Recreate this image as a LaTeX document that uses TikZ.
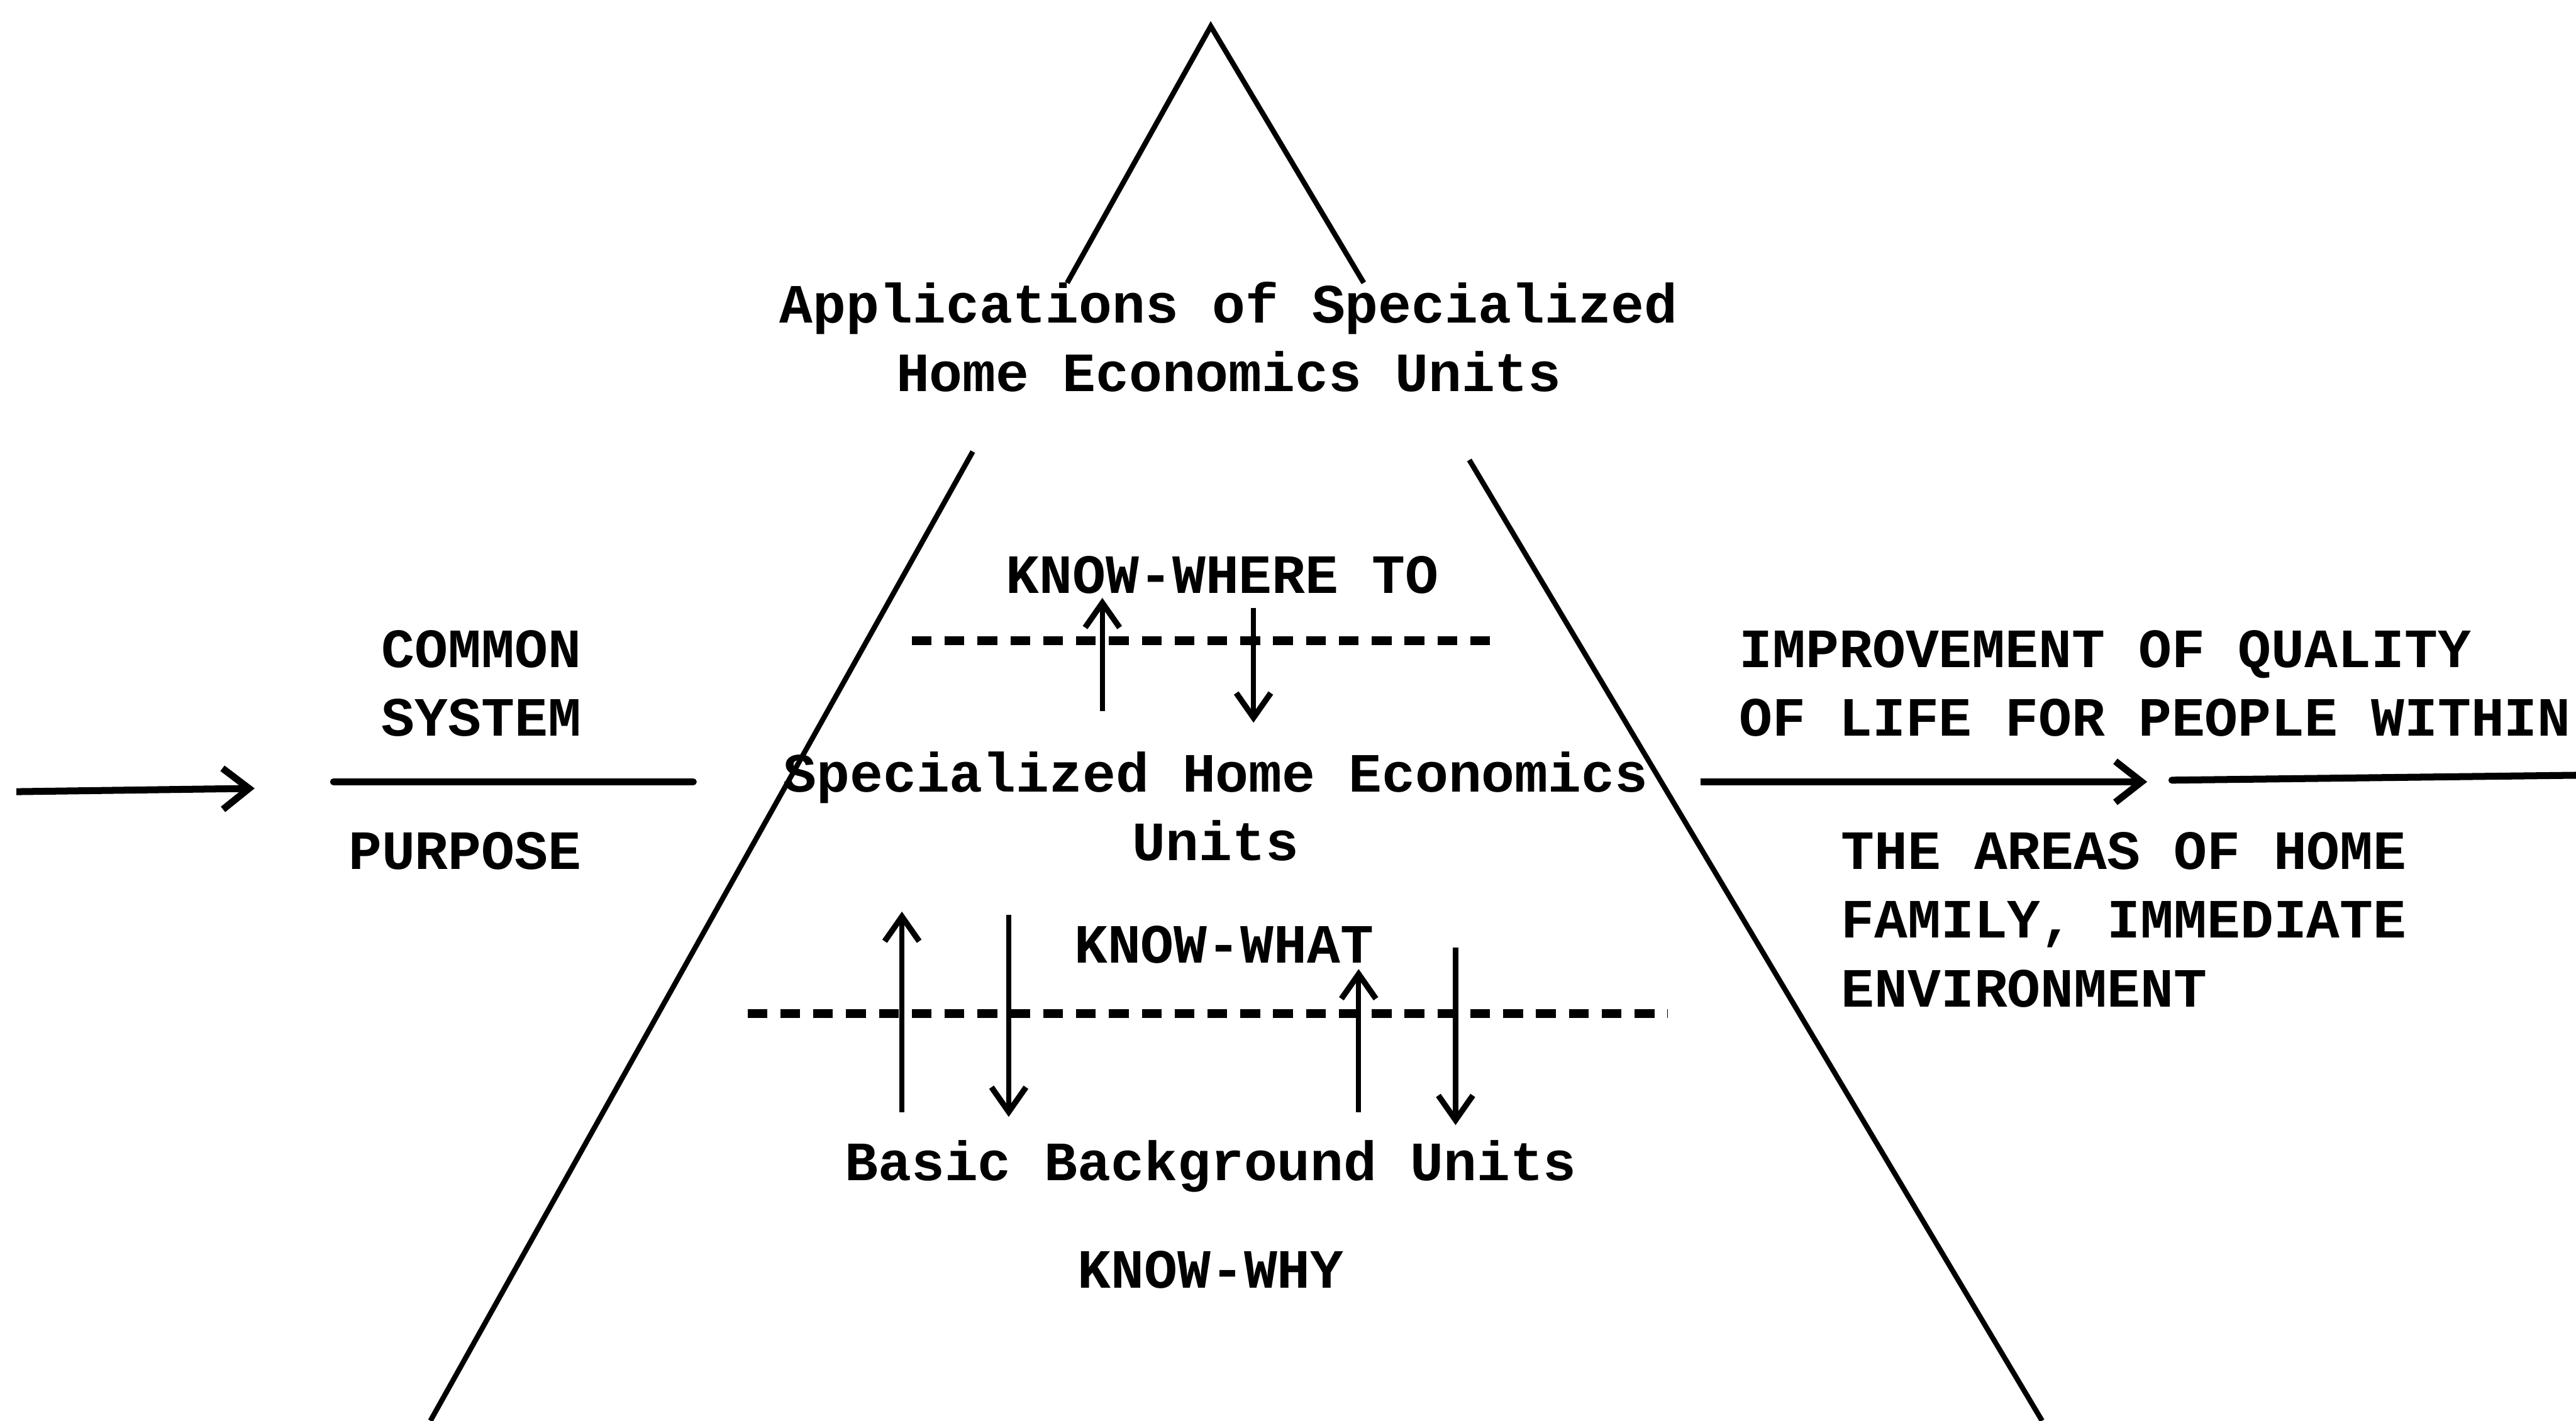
\documentclass[tikz,border=0pt]{standalone}
\usepackage{fontspec}
\setmonofont{Liberation Mono}
\usepackage{tikz}
\usetikzlibrary{positioning, calc, arrows.meta}

\begin{document}
\begin{tikzpicture}[x=0.1mm, y=-0.1mm,
  lbl/.style={font=\ttfamily\bfseries\fontsize{9.6}{11.9}\selectfont, align=center, inner sep=0pt},
  sidetext/.style={lbl, align=left, anchor=west},
  sideline/.style={line width=0.9pt},
  flow/.style={line width=0.9pt, -{Straight Barb[length=1.5mm,width=2.1mm,line width=1pt]}},
  bigflow/.style={line width=1.2pt, -{Straight Barb[length=1.6mm,width=2.5mm,line width=1.2pt]}},
  divider/.style={line width=1.5pt, dash pattern=on 1.2mm off 0.8mm},
  barline/.style={line width=1.2pt, line cap=round}]
\useasboundingbox (0,0) rectangle (1568,865);

% pyramid, broken by the top label
\coordinate (apex) at (737,16);
\coordinate (baseL) at (262,865);
\coordinate (baseR) at (1243,865);
\draw[sideline] ($(apex)!0.184!(baseL)$) -- (apex) -- ($(apex)!0.184!(baseR)$);
\draw[sideline] ($(apex)!0.305!(baseL)$) -- (baseL);
\draw[sideline] ($(apex)!0.311!(baseR)$) -- (baseR);

% labels inside
\node[lbl] (appl) at (748,205) {Applications of Specialized\\Home Economics Units};
\node[lbl] (where) at (744,350) {KNOW-WHERE TO};
\node[lbl] (spec) at (740,491) {Specialized Home Economics\\Units};
\node[lbl] (what) at (745,575) {KNOW-WHAT};
\node[lbl] (basic) at (737,710) {Basic Background Units};
\node[lbl] (why) at (737,773) {KNOW-WHY};

% upper level
\coordinate (d1L) at (555,390);
\coordinate (d1R) at (912,390);
\draw[divider] (d1L) -- (d1R);
\coordinate (u1s) at (671,433); \coordinate (u1e) at (671,364);
\coordinate (w1s) at (763,370); \coordinate (w1e) at (763,440);
\draw[flow] (u1s) -- (u1e);
\draw[flow] (w1s) -- (w1e);

% lower level
\coordinate (d2L) at (455,617);
\coordinate (d2R) at (1015,617);
\draw[divider] (d2L) -- (d2R);
\coordinate (u2s) at (549,677); \coordinate (u2e) at (549,555);
\coordinate (w2s) at (614,557); \coordinate (w2e) at (614,680);
\coordinate (u3s) at (827,677); \coordinate (u3e) at (827,590);
\coordinate (w3s) at (886,577); \coordinate (w3e) at (886,685);
\draw[flow] (u2s) -- (u2e);
\draw[flow] (w2s) -- (w2e);
\draw[flow] (u3s) -- (u3e);
\draw[flow] (w3s) -- (w3e);

% left side
\node[lbl] (common) at (293,416) {COMMON\\SYSTEM};
\node[lbl] (purpose) at (283,518) {PURPOSE};
\coordinate (inS) at (10,482);
\coordinate (inE) at (155,480);
\draw[bigflow] (inS) -- (inE);
\coordinate (fracL) at (203,476);
\coordinate (fracR) at (422,476);
\draw[barline] (fracL) -- (fracR);

% right side
\node[sidetext] (improve) at (1058,416) {IMPROVEMENT OF QUALITY\\OF LIFE FOR PEOPLE WITHIN};
\node[sidetext] (areas) at (1120,560) {THE AREAS OF HOME\\FAMILY, IMMEDIATE\\ENVIRONMENT};
\coordinate (outS) at (1035,476);
\coordinate (outE) at (1307,476);
\draw[bigflow] (outS) -- (outE);
\coordinate (tailL) at (1322,475);
\coordinate (tailR) at (1568,472);
\draw[barline] (tailL) -- (tailR);
\end{tikzpicture}
\end{document}
